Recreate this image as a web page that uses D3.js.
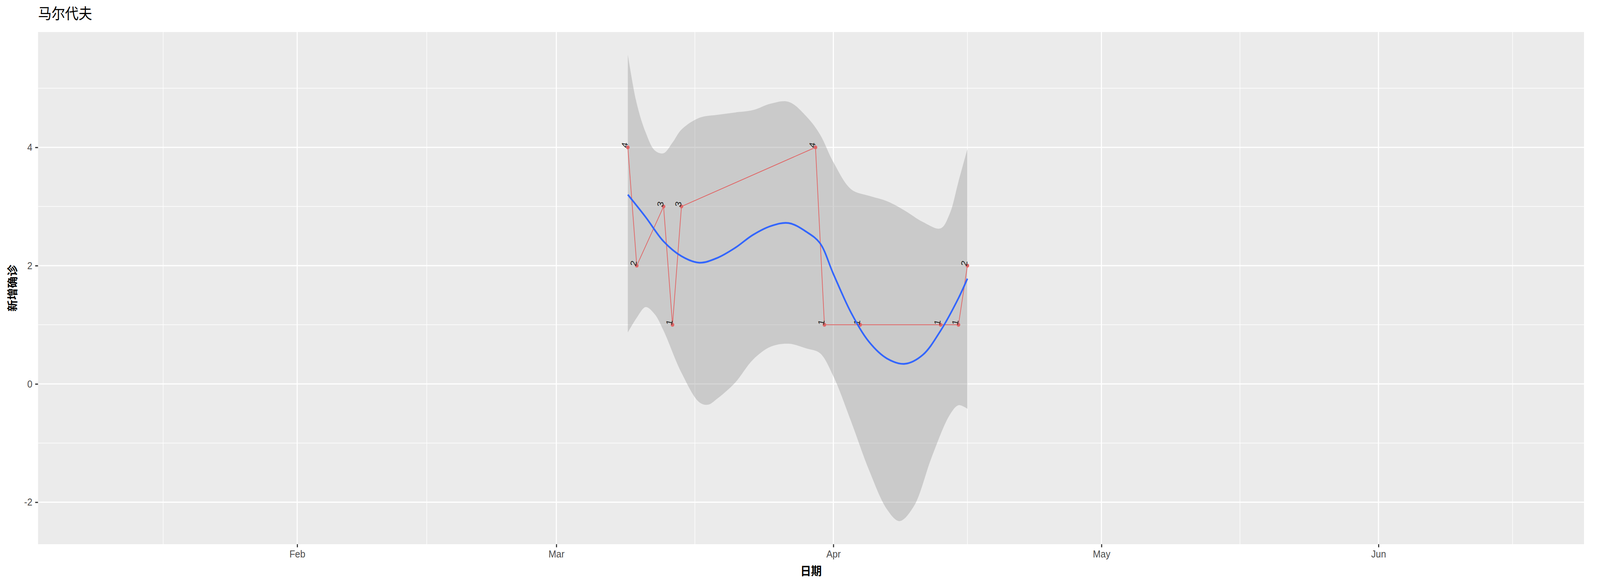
<!DOCTYPE html>
<html>
<head>
<meta charset="utf-8">
<script src="https://cdnjs.cloudflare.com/ajax/libs/d3/7.8.5/d3.min.js"></script>
<style>
  html, body { margin: 0; padding: 0; background: white; overflow: hidden; width: 100%; height: 100%; }
  #chart, svg { display: block; width: 100%; height: 100%; }
  text { font-family: "Liberation Sans", "Noto Sans CJK SC", sans-serif; }
</style>
</head>
<body>
<div id="chart"></div>
<script>
// daily new cases
var dates = ["2020-03-09","2020-03-10","2020-03-13","2020-03-14","2020-03-15","2020-03-30",
             "2020-03-31","2020-04-04","2020-04-13","2020-04-15","2020-04-16"];
var cases = [4, 2, 3, 1, 3, 4, 1, 1, 1, 1, 2];

// loess fit, days after 2020-03-01
var fitDays = [8, 10, 12, 14, 16, 18, 20, 22, 24, 26, 28, 29.5, 31, 33, 35, 37, 39, 41, 43, 45, 46];
var fitMean = [3.2, 2.82, 2.41, 2.16, 2.05, 2.13, 2.30, 2.52, 2.67, 2.72, 2.57, 2.38, 1.86, 1.2, 0.71, 0.43, 0.34, 0.49, 0.90, 1.45, 1.78];
var upDays = [8, 9, 10, 11, 12, 13, 14, 16, 18, 20, 22, 24, 26, 28, 29.5, 31, 33, 35, 37, 39, 41, 43, 44, 45, 46];
var upper  = [5.57, 4.74, 4.25, 3.95, 3.9, 4.08, 4.30, 4.5, 4.55, 4.59, 4.63, 4.74, 4.77, 4.52, 4.22, 3.75, 3.29, 3.18, 3.09, 2.93, 2.74, 2.63, 2.87, 3.42, 3.97];
var loDays = [8, 9, 10, 11, 12, 14, 16, 17, 18, 20, 22, 24, 26, 28, 29.5, 31, 33, 35, 37, 38.4, 40, 42, 44, 45, 46];
var lower  = [0.87, 1.12, 1.30, 1.18, 0.90, 0.19, -0.31, -0.35, -0.25, 0.02, 0.41, 0.63, 0.68, 0.60, 0.52, 0.13, -0.64, -1.46, -2.12, -2.32, -2.07, -1.24, -0.53, -0.36, -0.42];

var yTicks = [-2, 0, 2, 4];
var monthTicks = ["2020-02-01","2020-03-01","2020-04-01","2020-05-01","2020-06-01"];
var monthLabels = ["Feb","Mar","Apr","May","Jun"];

var W = 4500, H = 1500;
var L = 107, R = 4455, T = 82, B = 1393;
var parse = d3.timeParse("%Y-%m-%d");
var base = parse("2020-03-01");
var dayToDate = function(d){ return new Date(base.getTime() + d * 864e5); };

var x = d3.scaleTime().domain([parse("2020-01-03"), parse("2020-06-24")]).range([L, R]);
var y = d3.scaleLinear().domain([-2.71, 5.95]).range([B, T]);

var svg = d3.select("#chart").append("svg")
  .attr("viewBox", "0 0 " + W + " " + H).attr("preserveAspectRatio", "none");

svg.append("rect").attr("x", L).attr("y", T).attr("width", R - L).attr("height", B - T).attr("fill", "#EBEBEB");

// minor grid
var minorY = [-1, 1, 3, 5];
svg.selectAll(".my").data(minorY).enter().append("line")
  .attr("x1", L).attr("x2", R).attr("y1", d => y(d)).attr("y2", d => y(d))
  .attr("stroke", "white").attr("stroke-width", 1.5);
var majorX = monthTicks.map(parse);
var minorX = [parse("2020-01-17")];
for (var i = 0; i < majorX.length; i++) {
  var next = i + 1 < majorX.length ? majorX[i + 1] : d3.timeMonth.offset(majorX[i], 1);
  minorX.push(new Date((majorX[i].getTime() + next.getTime()) / 2));
}
svg.selectAll(".mx").data(minorX).enter().append("line")
  .attr("y1", T).attr("y2", B).attr("x1", d => x(d)).attr("x2", d => x(d))
  .attr("stroke", "white").attr("stroke-width", 1.5);
// major grid
svg.selectAll(".gy").data(yTicks).enter().append("line")
  .attr("x1", L).attr("x2", R).attr("y1", d => y(d)).attr("y2", d => y(d))
  .attr("stroke", "white").attr("stroke-width", 3);
svg.selectAll(".gx").data(majorX).enter().append("line")
  .attr("y1", T).attr("y2", B).attr("x1", d => x(d)).attr("x2", d => x(d))
  .attr("stroke", "white").attr("stroke-width", 3);

// axes
var xAxis = d3.axisBottom(x).tickValues(majorX).tickFormat((d, i) => monthLabels[i]).tickSize(8).tickPadding(8);
var gx = svg.append("g").attr("transform", "translate(0," + B + ")").call(xAxis);
var yAxis = d3.axisLeft(y).tickValues(yTicks).tickFormat(d => String(d)).tickSize(8).tickPadding(8);
var gy = svg.append("g").attr("transform", "translate(" + L + ",0)").call(yAxis);
[gx, gy].forEach(function(g){
  g.select(".domain").remove();
  g.selectAll(".tick line").attr("stroke", "#333").attr("stroke-width", 3);
  g.selectAll(".tick text").attr("fill", "#4D4D4D").style("font-size", "26px");
});

// confidence band
var dayLine = d3.line().x(p => x(dayToDate(p.d))).y(p => y(p.v)).curve(d3.curveCatmullRom);
var upPts = upDays.map((d, i) => ({d: d, v: upper[i]}));
var lowPts = loDays.map((d, i) => ({d: d, v: lower[i]})).reverse();
var upPath = dayLine(upPts);
var loPath = dayLine(lowPts);
svg.append("path").attr("d", upPath + "L" + loPath.slice(1) + "Z")
  .attr("fill", "#999999").attr("fill-opacity", 0.4);

// observed line and points
var obs = dates.map((d, i) => ({t: parse(d), v: cases[i]}));
svg.append("path").datum(obs)
  .attr("d", d3.line().x(p => x(p.t)).y(p => y(p.v)))
  .attr("fill", "none").attr("stroke", "#E06666").attr("stroke-width", 2);
svg.selectAll(".pt").data(obs).enter().append("circle")
  .attr("cx", p => x(p.t)).attr("cy", p => y(p.v)).attr("r", 5).attr("fill", "#E06666");
svg.selectAll(".lab").data(obs).enter().append("text")
  .attr("transform", p => "translate(" + (x(p.t) - 2) + "," + (y(p.v) + 2) + ") rotate(-80)")
  .attr("text-anchor", "start").style("font-size", "24px").attr("fill", "#222")
  .text(p => p.v);

// smooth fit
var fit = fitDays.map((d, i) => ({d: d, v: fitMean[i]}));
svg.append("path").datum(fit).attr("d", dayLine)
  .attr("fill", "none").attr("stroke", "#3366FF").attr("stroke-width", 4.5);

// titles
svg.append("text").attr("x", L).attr("y", 48).style("font-size", "38px").attr("fill", "#000").text("马尔代夫");
svg.append("text").attr("x", (L + R) / 2).attr("y", 1472).attr("text-anchor", "middle")
  .style("font-size", "30px").style("font-weight", "bold").text("日期");
svg.append("text").attr("transform", "translate(46," + ((T + B) / 2) + ") rotate(-90)")
  .attr("text-anchor", "middle").style("font-size", "30px").style("font-weight", "bold").text("新增确诊");
</script>
</body>
</html>
